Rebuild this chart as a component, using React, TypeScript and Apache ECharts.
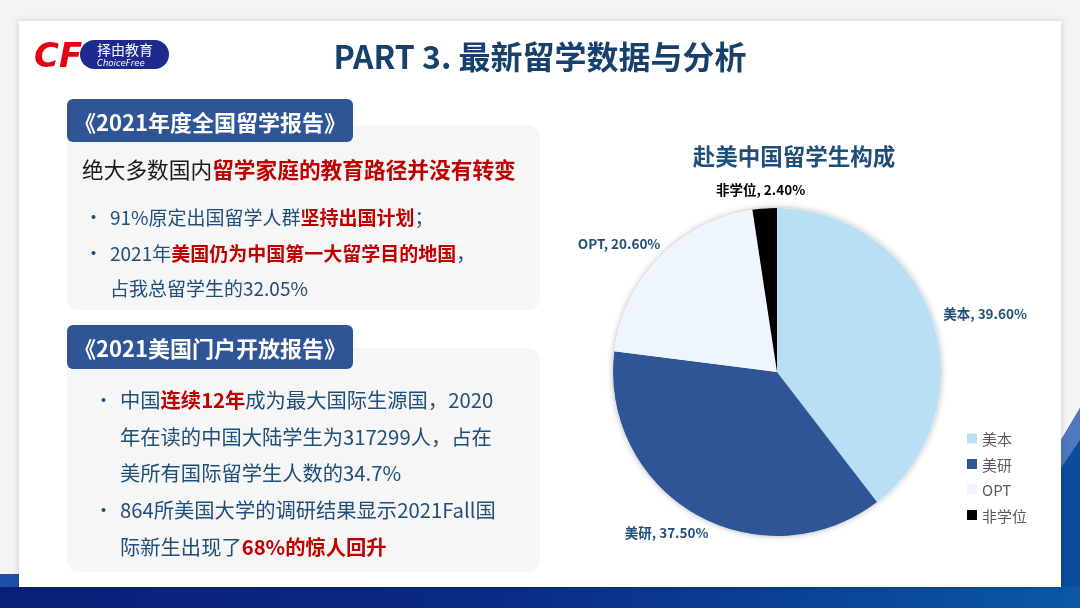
import React, { useEffect, useRef } from "react";
import * as echarts from "echarts";

const categories = ["美本", "美研", "OPT", "非学位"];
const shares = [39.6, 37.5, 20.6, 2.4];
const sliceColors = ["#b9dff5", "#2f5597", "#eef5fc", "#000000"];
const labelColors = ["#1f4e79", "#1f4e79", "#1f4e79", "#000000"];
const labelNudge = [-13, 28, 20, 47];

const chartTitle = "赴美中国留学生构成";
const slideTitle = "PART 3. 最新留学数据与分析";
const header1 = "《2021年度全国留学报告》";
const header2 = "《2021美国门户开放报告》";

const FONT = '"Noto Sans CJK SC", "Noto Sans", sans-serif';
const BLUE_TXT = "#1f4e79";
const RED = "#c00000";

function richLine(x: number, y: number, text: string, size: number, z = 10) {
  return {
    type: "text",
    x,
    y,
    z,
    style: {
      text,
      verticalAlign: "middle",
      fontFamily: FONT,
      rich: {
        k: { fontSize: size, fill: "#1a1a1a", fontFamily: FONT },
        n: { fontSize: size, fill: BLUE_TXT, fontFamily: FONT },
        r: { fontSize: size, fill: RED, fontWeight: "bold", fontFamily: FONT },
      },
    },
  };
}

function bullet(x: number, y: number) {
  return {
    type: "text",
    x,
    y,
    z: 10,
    style: { text: "•", fontSize: 19, fill: BLUE_TXT, verticalAlign: "middle", fontFamily: FONT },
  };
}

export default function App() {
  const ref = useRef<HTMLDivElement>(null);
  useEffect(() => {
    if (!ref.current) return;
    const chart = echarts.init(ref.current, null, { renderer: "svg" });

    const graphic: any[] = [
      // page background
      { type: "rect", z: 0, shape: { x: 0, y: 0, width: 1080, height: 608 }, style: { fill: "#f4f4f4" } },
      // right blue decoration
      { type: "polygon", z: 0, shape: { points: [[1061, 440], [1080, 408], [1080, 608], [1061, 608]] }, style: { fill: "#0c4c9e" } },
      { type: "polygon", z: 0, shape: { points: [[1061, 440], [1080, 408], [1080, 440], [1061, 468]] }, style: { fill: "#4f78bf" } },
      // left blue strip
      { type: "rect", z: 0, shape: { x: 0, y: 574, width: 20, height: 14 }, style: { fill: "#1f4fa6" } },
      // bottom band
      {
        type: "rect",
        z: 0,
        shape: { x: 0, y: 587, width: 1080, height: 21 },
        style: {
          fill: new echarts.graphic.LinearGradient(0, 0, 1, 0, [
            { offset: 0, color: "#0a1f78" },
            { offset: 0.45, color: "#0a2a85" },
            { offset: 1, color: "#0a58a6" },
          ]),
        },
      },
      // white card
      {
        type: "rect",
        z: 1,
        shape: { x: 19, y: 21, width: 1042, height: 566 },
        style: { fill: "#ffffff", shadowBlur: 6, shadowColor: "rgba(0,0,0,0.18)" },
      },
      // logo
      { type: "rect", z: 5, shape: { x: 80, y: 40, width: 89, height: 29, r: 14.5 }, style: { fill: "#1e2a8c" } },
      {
        type: "text", z: 6, x: 34, y: 55,
        style: { text: "CF", fontSize: 34, fontWeight: "bold", fontStyle: "italic", fill: "#e60012", verticalAlign: "middle", fontFamily: "DejaVu Sans" },
      },
      { type: "text", z: 6, x: 97, y: 48.5, style: { text: "择由教育", fontSize: 14, lineHeight: 14, fill: "#ffffff", verticalAlign: "middle", fontFamily: FONT } },
      { type: "text", z: 6, x: 97, y: 62.5, style: { text: "ChoiceFree", fontSize: 8.5, lineHeight: 9, fontStyle: "italic", fill: "#ffffff", verticalAlign: "middle", fontFamily: "DejaVu Sans" } },
      // slide title
      {
        type: "text", z: 6, x: 540, y: 55,
        style: { text: slideTitle, fontSize: 32, fontWeight: "bold", fill: "#17406d", align: "center", verticalAlign: "middle", fontFamily: FONT },
      },
      // box 1
      { type: "rect", z: 2, shape: { x: 67, y: 125, width: 473, height: 185, r: 12 }, style: { fill: "#f6f6f6" } },
      { type: "rect", z: 3, shape: { x: 67, y: 99, width: 286, height: 43, r: 6 }, style: { fill: "#2f5597" } },
      {
        type: "text", z: 4, x: 210, y: 121,
        style: { text: header1, fontSize: 22, fontWeight: "bold", fill: "#ffffff", align: "center", verticalAlign: "middle", fontFamily: FONT },
      },
      richLine(82, 168, "{k|绝大多数国内}{r|留学家庭的教育路径并没有转变}", 21.7),
      bullet(84, 216),
      richLine(110, 216, "{n|91%原定出国留学人群}{r|坚持出国计划}{n|；}", 19),
      bullet(84, 252),
      richLine(110, 252, "{n|2021年}{r|美国仍为中国第一大留学目的地国}{n|，}", 19),
      richLine(110, 287, "{n|占我总留学生的32.05%}", 19),
      // box 2
      { type: "rect", z: 2, shape: { x: 67, y: 348, width: 473, height: 224, r: 12 }, style: { fill: "#f6f6f6" } },
      { type: "rect", z: 3, shape: { x: 67, y: 325, width: 286, height: 44, r: 6 }, style: { fill: "#2f5597" } },
      {
        type: "text", z: 4, x: 210, y: 347,
        style: { text: header2, fontSize: 22, fontWeight: "bold", fill: "#ffffff", align: "center", verticalAlign: "middle", fontFamily: FONT },
      },
      bullet(94, 399),
      richLine(120, 399, "{n|中国}{r|连续12年}{n|成为最大国际生源国，2020}", 20.3),
      richLine(120, 436, "{n|年在读的中国大陆学生为317299人，占在}", 20.3),
      richLine(120, 472, "{n|美所有国际留学生人数的34.7%}", 20.3),
      bullet(94, 509),
      richLine(120, 509, "{n|864所美国大学的调研结果显示2021Fall国}", 20.3),
      richLine(120, 546, "{n|际新生出现了}{r|68%的惊人回升}", 20.3),
    ];

    const option: any = {
      animation: false,
      title: {
        text: chartTitle,
        left: 789,
        top: 139,
        textAlign: "center",
        textStyle: { fontSize: 22.5, fontWeight: "bold", color: BLUE_TXT, fontFamily: FONT },
        z: 20,
      },
      legend: {
        data: categories,
        orient: "vertical",
        left: 962,
        top: 426,
        itemWidth: 10,
        itemHeight: 10,
        itemGap: 10.5,
        icon: "rect",
        textStyle: { fontSize: 15, color: "#595959", fontFamily: FONT },
        z: 20,
      },
      graphic: { elements: graphic },
      series: [
        {
          type: "pie",
          silent: true,
          z: 3,
          center: [777, 372],
          radius: 164,
          data: [{ value: 1, name: "", itemStyle: { color: "#ffffff", shadowBlur: 6, shadowColor: "rgba(0,0,0,0.3)" } }],
          label: { show: false },
          labelLine: { show: false },
        },
        {
          type: "pie",
          z: 4,
          center: [777, 372],
          radius: 164,
          startAngle: 90,
          clockwise: true,
          avoidLabelOverlap: false,
          itemStyle: { borderWidth: 0 },
          data: categories.map((name, i) => ({
            name,
            value: shares[i],
            itemStyle: { color: sliceColors[i] },
            label: { color: labelColors[i] },
          })),
          label: {
            show: true,
            position: "outside",
            fontSize: 13.5,
            fontWeight: "bold",
            fontFamily: FONT,
            formatter: (p: any) => `${p.name}, ${Number(p.value).toFixed(2)}%`,
          },
          labelLine: { show: false, length: 20, length2: 0 },
          labelLayout: (p: any) => ({ dx: labelNudge[p.dataIndex] }),
        },
      ],
    };
    chart.setOption(option);
    return () => chart.dispose();
  }, []);

  return (
    <div
      ref={ref}
      style={{ position: "fixed", left: 0, top: 0, width: 1080, height: 608 }}
    />
  );
}
